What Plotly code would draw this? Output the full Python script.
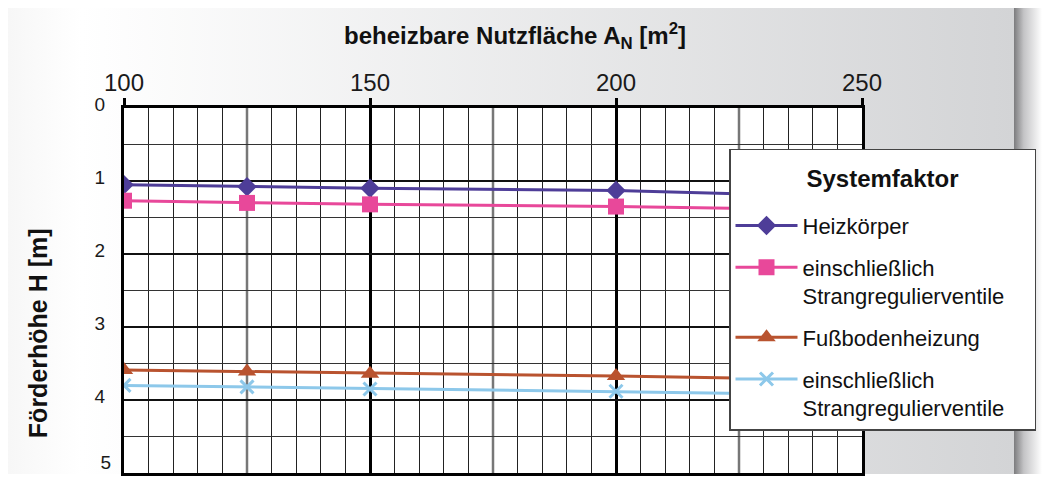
import base64
import plotly.graph_objects as go

# ---- data ----
area = [100, 125, 150, 200, 250]
heizkoerper = [1.05, 1.08, 1.10, 1.13, 1.22]
heizkoerper_srv = [1.27, 1.30, 1.32, 1.35, 1.40]
fussboden = [3.59, 3.61, 3.64, 3.67, 3.73]
fussboden_srv = [3.80, 3.82, 3.85, 3.88, 3.93]

PAD = "&nbsp;" * 4
names = ["Heizkörper", "einschließlich<br>Strangregulierventile" + PAD,
         "Fußbodenheizung", "einschließlich<br>Strangregulierventile" + PAD]
colors = ["#4E3D98", "#E8489A", "#B9532F", "#8DC8EA"]
symbols = ["diamond", "square", "triangle-up", "x-thin"]
sizes = [15, 16, 16, 13]
series = [heizkoerper, heizkoerper_srv, fussboden, fussboden_srv]

x_ticks = [100, 150, 200, 250]
y_ticks = [0, 1, 2, 3, 4]
y_ticks_bottom = [5]

# page body has an 8px margin: lay everything out in page pixels minus 8
OFF = 8
W, H = 1053 - OFF, 477 - OFF
L, T = 124 - OFF, 108 - OFF
pw, ph = 738, 368
R, B = W - L - pw, H - T - ph


def px(xp):
    return (xp - OFF - L) / pw


def py(yp):
    return (T + ph - (yp - OFF)) / ph


fig = go.Figure()
for i, (nm, ys) in enumerate(zip(names, series)):
    mk = dict(symbol=symbols[i], size=sizes[i], color=colors[i])
    if symbols[i] == "x-thin":
        mk["line"] = dict(color=colors[i], width=3)
    fig.add_trace(go.Scatter(x=area, y=ys, name=nm, mode="lines+markers",
                             line=dict(color=colors[i], width=3), marker=mk,
                             legendgroup=f"g{i}"))
# empty helper trace so the overlay axis (bottom tick label) is drawn
fig.add_trace(go.Scatter(x=[None], y=[None], yaxis="y2", showlegend=False,
                         hoverinfo="skip", mode="lines"))

# background gradient panel + shadow
svg = ('<svg xmlns="http://www.w3.org/2000/svg" width="1053" height="477" '
       'viewBox="0 0 1053 477" preserveAspectRatio="none"><defs>'
       '<linearGradient id="g" x1="0" x2="1" y1="0" y2="0">'
       '<stop offset="0" stop-color="#f6f6f6"/><stop offset="0.08" stop-color="#ffffff"/>'
       '<stop offset="1" stop-color="#d3d4d6"/></linearGradient>'
       '<linearGradient id="s" x1="0" x2="1" y1="0" y2="0">'
       '<stop offset="0" stop-color="#7c7c7e"/><stop offset="0.35" stop-color="#c4c4c6"/>'
       '<stop offset="1" stop-color="#ffffff"/></linearGradient></defs>'
       '<rect x="0" y="0" width="1014" height="477" fill="url(#g)"/>'
       '<rect x="1014" y="0" width="28" height="477" fill="url(#s)"/></svg>')
src = "data:image/svg+xml;base64," + base64.b64encode(svg.encode()).decode()
fig.add_layout_image(dict(source=src, xref="paper", yref="paper",
                          x=px(0), y=py(0), sizex=1053 / pw, sizey=477 / ph,
                          xanchor="left", yanchor="top", sizing="stretch",
                          layer="below"))
fig.add_shape(type="rect", xref="paper", yref="paper", x0=0, x1=1, y0=0, y1=1,
              fillcolor="white", line=dict(width=0), layer="below")
for xv in [125, 175, 225]:
    fig.add_shape(type="line", xref="x", yref="paper", x0=xv, x1=xv, y0=0, y1=1,
                  line=dict(color="#777777", width=2.5), layer="between")

minor_vals = [v for v in range(100, 251, 5) if v % 25 != 0]

fig.update_layout(
    xaxis=dict(side="top", range=[100, 250], tickvals=x_ticks,
               ticks="outside", ticklen=7, tickwidth=3, tickcolor="black",
               tickfont=dict(size=24, color="#1a1a1a"), ticklabelstandoff=-3,
               showgrid=True, gridcolor="black", gridwidth=2.5,
               showline=True, linecolor="black", linewidth=3, mirror=True,
               minor=dict(tickvals=minor_vals, showgrid=True,
                          gridcolor="#222222", gridwidth=1, ticks=""),
               zeroline=False, fixedrange=True),
    yaxis=dict(range=[5, 0], tickvals=y_ticks, ticks="",
               tickfont=dict(size=19, color="#1a1a1a"), ticklabelstandoff=12,
               ticklabelshift=4,
               showgrid=True, gridcolor="#111111", gridwidth=2,
               showline=True, linecolor="black", linewidth=3, mirror=True,
               minor=dict(dtick=0.5, showgrid=True, gridcolor="#333333",
                          gridwidth=1.3, ticks=""),
               zeroline=False, fixedrange=True),
    yaxis2=dict(range=[5, 0], overlaying="y", side="left", tickvals=y_ticks_bottom,
                ticks="", tickfont=dict(size=19, color="#1a1a1a"),
                ticklabelstandoff=12, ticklabelshift=11, ticklabeloverflow="allow",
                showgrid=False, showline=False, zeroline=False, fixedrange=True),
)

fig.add_annotation(text="<b>beheizbare Nutzfläche A<sub>N</sub> [m<sup>2</sup>]</b>",
                   xref="paper", yref="paper", x=px(515), y=py(35),
                   xanchor="center", yanchor="middle", showarrow=False,
                   font=dict(size=24, color="#111111"))
fig.add_annotation(text="<b>Förderhöhe H [m]</b>", textangle=-90,
                   xref="paper", yref="paper", x=px(38), y=py(335),
                   xanchor="center", yanchor="middle", showarrow=False,
                   font=dict(size=25, color="#111111"))

legend_title = ("&nbsp;<br><span style='font-size:24px'><b>Systemfaktor</b></span>"
                "<br>&nbsp;")

fig.update_layout(
    width=W, height=H, margin=dict(l=L, r=R, t=T, b=B, pad=0),
    paper_bgcolor="white", plot_bgcolor="white",
    font=dict(family="Liberation Sans, Arial, sans-serif", color="#111111"),
    showlegend=True,
    legend=dict(x=px(729), y=py(149), xanchor="left", yanchor="top",
                bgcolor="white", bordercolor="#444444", borderwidth=1.5,
                font=dict(size=22, color="#111111"),
                title=dict(text=legend_title, side="top center",
                           font=dict(size=14, color="#111111")),
                itemwidth=62, tracegroupgap=10, valign="top",
                traceorder="grouped"),
)

fig.write_html("out.html")
